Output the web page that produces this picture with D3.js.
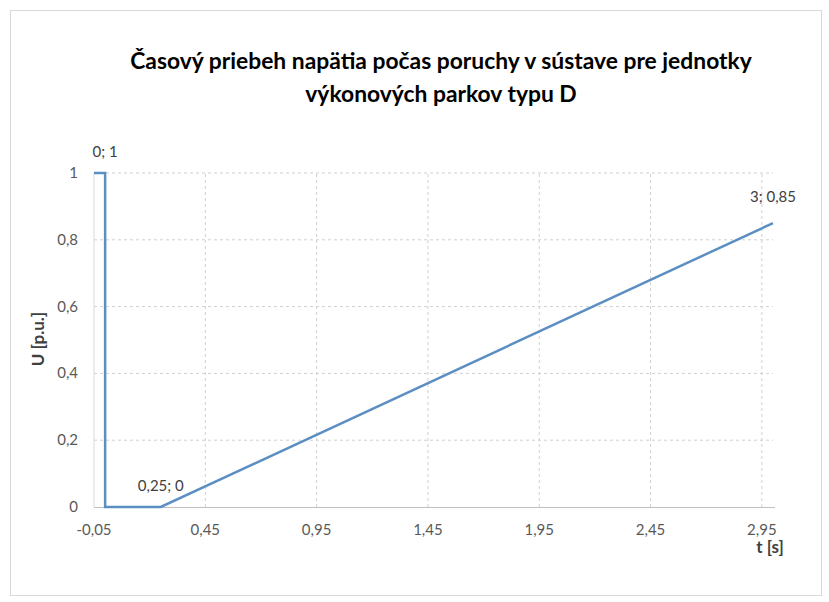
<!DOCTYPE html>
<html><head><meta charset="utf-8">
<script src="https://cdn.jsdelivr.net/npm/d3@7"></script>
<style>body{margin:0;background:#fff}svg{display:block}</style>
</head><body>
<svg id="c" width="829" height="602"></svg>
<script>
const titleLines = ["Časový priebeh napätia počas poruchy v sústave pre jednotky", "výkonových parkov typu D"];
const timeValues = [-0.05, 0, 0, 0.25, 3];
const voltageValues = [1, 1, 0, 0, 0.85];
const pointLabels = [null, "0; 1", null, "0,25; 0", "3; 0,85"];
const xTicks = [-0.05, 0.45, 0.95, 1.45, 1.95, 2.45, 2.95];
const xTickLabels = ["-0,05", "0,45", "0,95", "1,45", "1,95", "2,45", "2,95"];
const yTicks = [0, 0.2, 0.4, 0.6, 0.8, 1];
const yTickLabels = ["0", "0,2", "0,4", "0,6", "0,8", "1"];
const xTitle = "t [s]";
const yTitle = "U [p.u.]";

const svg = d3.select("#c");
const font = "Lato, 'Open Sans', 'DejaVu Sans', sans-serif";
svg.append("rect").attr("x", 10.5).attr("y", 10.5).attr("width", 811).attr("height", 585)
  .attr("fill", "#fff").attr("stroke", "#d9d9d9");

const x = d3.scaleLinear().domain([-0.05, 3.0]).range([94, 773]);
const y = d3.scaleLinear().domain([0, 1]).range([507, 173]);

// gridlines
svg.append("g").selectAll("line").data(yTicks.filter(d => d > 0)).join("line")
  .attr("x1", x(-0.05)).attr("x2", x(3.0)).attr("y1", d => y(d)).attr("y2", d => y(d))
  .attr("stroke", "#d0d0d0").attr("stroke-dasharray", "3,3").attr("stroke-width", 1);
svg.append("g").selectAll("line").data(xTicks.filter(d => d > -0.05)).join("line")
  .attr("x1", d => x(d)).attr("x2", d => x(d)).attr("y1", y(0)).attr("y2", y(1))
  .attr("stroke", "#d0d0d0").attr("stroke-dasharray", "3,3").attr("stroke-width", 1);

// axes lines
svg.append("line").attr("x1", x(-0.05)).attr("x2", x(-0.05)).attr("y1", y(0)).attr("y2", y(1))
  .attr("stroke", "#d9d9d9");
svg.append("line").attr("x1", x(-0.05)).attr("x2", x(3.0) + 2).attr("y1", y(0) + 0.5).attr("y2", y(0) + 0.5)
  .attr("stroke", "#bfbfbf");

// tick labels
svg.append("g").selectAll("text").data(xTicks).join("text")
  .attr("x", d => x(d)).attr("y", 535).attr("text-anchor", "middle")
  .attr("font-family", font).attr("font-size", 15).attr("fill", "#595959")
  .text((d, i) => xTickLabels[i]);
svg.append("g").selectAll("text").data(yTicks).join("text")
  .attr("x", 78).attr("y", d => y(d) + 5).attr("text-anchor", "end")
  .attr("font-family", font).attr("font-size", 15).attr("fill", "#595959")
  .text((d, i) => yTickLabels[i]);

// axis titles
svg.append("text").attr("transform", "translate(44,339) rotate(-90)").attr("text-anchor", "middle")
  .attr("font-family", font).attr("font-size", 17).attr("font-weight", "bold").attr("fill", "#404040")
  .text(yTitle);
svg.append("text").attr("x", 770).attr("y", 553).attr("text-anchor", "middle")
  .attr("font-family", font).attr("font-size", 17).attr("font-weight", "bold").attr("fill", "#404040")
  .text(xTitle);

// line
const pts = timeValues.map((t, i) => [t, voltageValues[i]]);
svg.append("path").datum(pts)
  .attr("d", d3.line().x(d => x(d[0])).y(d => y(d[1])))
  .attr("fill", "none").attr("stroke", "#5b8ec2").attr("stroke-width", 2.5);

// data labels
const labelOffsets = [null, [0, -16], null, [0, -16], [0, -21]];
svg.append("g").selectAll("text").data(pts.map((p, i) => ({p, i})).filter(d => pointLabels[d.i]))
  .join("text")
  .attr("x", d => x(d.p[0]) + labelOffsets[d.i][0])
  .attr("y", d => y(d.p[1]) + labelOffsets[d.i][1])
  .attr("text-anchor", "middle")
  .attr("font-family", font).attr("font-size", 15).attr("fill", "#404040")
  .text(d => pointLabels[d.i]);

// title
const tg = svg.append("g");
const lineY = [69, 102];
titleLines.forEach((t, i) => {
  tg.append("text").attr("x", 441).attr("y", lineY[i]).attr("text-anchor", "middle")
    .attr("font-family", font).attr("font-size", 18).attr("font-weight", "bold").attr("fill", "#000")
    .text(t);
});
const first = tg.select("text").node();
const w = first.getComputedTextLength();
const s = 18 * 622 / w;
tg.selectAll("text").attr("font-size", s);
</script>
</body></html>
